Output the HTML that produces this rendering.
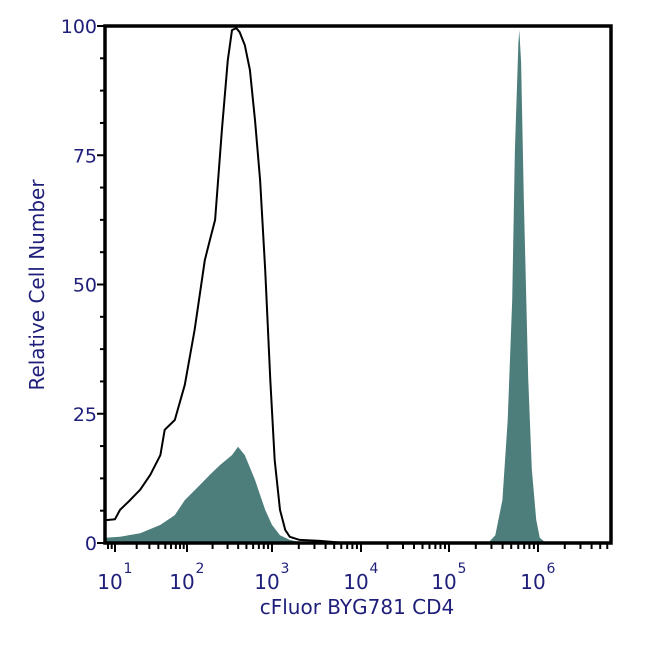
<!DOCTYPE html>
<html><head><meta charset="utf-8"><style>
html,body{margin:0;padding:0;background:#fff;}
svg{display:block;font-family:"DejaVu Sans","Liberation Sans",sans-serif;}
</style></head><body>
<svg id="chart" width="650" height="650" viewBox="0 0 650 650" xmlns="http://www.w3.org/2000/svg">
<rect width="650" height="650" fill="#fff"/>
<g id="marks"></g>
<g id="axes"></g>
<text transform="translate(44,285) rotate(-90)" text-anchor="middle" font-size="20" fill="#1f1f7a">Relative Cell Number</text>
<text x="357" y="614" text-anchor="middle" font-size="20" fill="#1f1f7a">cFluor BYG781 CD4</text>
</svg>
<script>
// data (x in log10 units, y in % relative count)
const ctrlX=[0.86,1.0,1.07,1.21,1.35,1.49,1.63,1.69,1.83,1.97,2.09,2.21,2.27,2.33,2.41,2.48,2.53,2.58,2.62,2.68,2.74,2.80,2.86,2.92,2.98,3.03,3.09,3.15,3.20,3.31,3.54,3.82];
const ctrlY=[4.4,4.6,6.4,8.3,10.3,13.2,17,21.9,23.8,30.6,41.2,54.7,58.6,62.5,79.9,93.4,99.2,99.6,98.8,96.3,91.5,81.8,70.2,52.8,31.5,16,6.4,2.5,1.2,0.6,0.4,0];
const lowX=[0.86,1.07,1.35,1.63,1.83,1.97,2.15,2.27,2.39,2.53,2.60,2.68,2.80,2.92,3.0,3.09,3.20,3.31,3.54];
const lowY=[1,1.2,1.9,3.5,5.4,8.3,11.2,13.2,15.1,17,18.6,17,12.2,6.4,3.5,1.5,0.6,0.2,0];
const highX=[5.44,5.52,5.60,5.66,5.71,5.74,5.78,5.79,5.81,5.84,5.89,5.93,5.98,6.02,6.09];
const highY=[0,1.5,8.3,23.8,47,76,96.7,99.2,93,66.7,31.9,14.3,4.5,1,0];
const yTicks=[0,25,50,75,100];
const xDecades=[1,2,3,4,5,6];
const xDecadeLabels=["1","2","3","4","5","6"];

const L=105,R=611,T=26,B=543;
const decPx=[115,187,272,361,449,538]; // axis layout for decade 1..6
function xs(v){
  if(v<=1) return decPx[0]+(v-1)*(decPx[1]-decPx[0]);
  if(v>=6) return decPx[5]+(v-6)*(decPx[5]-decPx[4]);
  const i=Math.floor(v), f=v-i; return decPx[i-1]+f*(decPx[i]-decPx[i-1]);
}
function ys(v){return B-(v/100)*(B-T);}
const NS="http://www.w3.org/2000/svg";
function mk(tag,attrs,parent){const e=document.createElementNS(NS,tag);for(const k in attrs)e.setAttribute(k,attrs[k]);parent.appendChild(e);return e;}
const marks=document.getElementById('marks'), axes=document.getElementById('axes');

function areaPath(X,Y){let d=`M${xs(X[0]).toFixed(1)},${B}`;X.forEach((x,i)=>d+=` L${xs(x).toFixed(1)},${ys(Y[i]).toFixed(1)}`);d+=` L${xs(X[X.length-1]).toFixed(1)},${B} Z`;return d;}
function linePath(X,Y){return X.map((x,i)=>(i?'L':'M')+xs(x).toFixed(1)+','+ys(Y[i]).toFixed(1)).join(' ');}
const a1=mk('path',{d:areaPath(lowX,lowY),fill:'#4d7e7c'},marks);


const a2=mk('path',{d:areaPath(highX,highY),fill:'#4d7e7c'},marks);


const l1=mk('path',{d:linePath(ctrlX,ctrlY),fill:'none',stroke:'#000','stroke-width':2,'stroke-linejoin':'round'},marks);



const fr=mk('rect',{x:L,y:T,width:R-L,height:B-T,fill:'none',stroke:'#000','stroke-width':3.5},axes);



for(let v=0;v<=100;v+=6.25){
  const major=yTicks.includes(v);
  const t=mk('line',{x1:L-(major?8:5),x2:L,y1:ys(v),y2:ys(v),stroke:'#000','stroke-width':2},axes);
  
  
}
yTicks.forEach(v=>{
  const t=mk('text',{x:L-8,y:ys(v)+7,'text-anchor':'end','font-size':19,fill:'#1f1f7a'},axes);
  t.textContent=v;
  
  
});
for(let d=0;d<=6;d++){
  for(let m=1;m<=9;m++){
    const v=d+Math.log10(m); const px=xs(v);
    if(px<L+1||px>R-1) continue;
    const t=mk('line',{x1:px,x2:px,y1:B,y2:B+(m===1?9:6),stroke:'#000','stroke-width':2},axes);
    
    
  }
}
xDecades.forEach((d,i)=>{
  const t=mk('text',{x:xs(d)-5,y:589,'text-anchor':'middle','font-size':20,fill:'#1f1f7a'},axes);
  t.textContent='10';
  
  
  const s=mk('text',{x:xs(d)+13,y:573,'text-anchor':'middle','font-size':14,fill:'#1f1f7a'},axes);
  s.textContent=xDecadeLabels[i];
  
  
});
</script>
</body></html>
